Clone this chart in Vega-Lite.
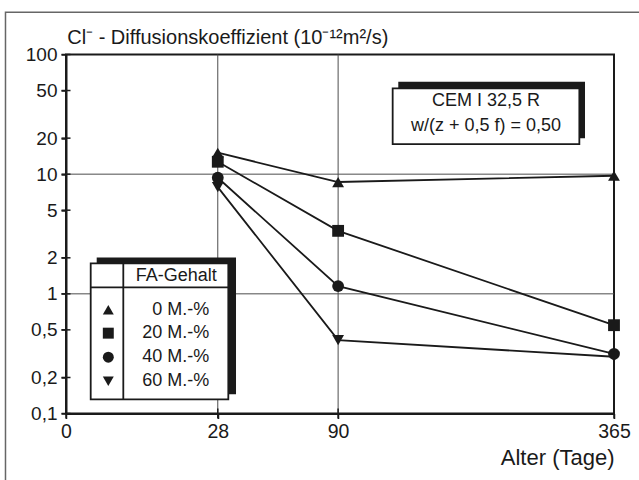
{
  "$schema": "https://vega.github.io/schema/vega-lite/v6.json",
  "width": 548,
  "height": 359,
  "autosize": {"type": "none"},
  "padding": {"left": 66, "top": 54.5, "right": 25, "bottom": 66.5},
  "background": "white",
  "config": {
    "font": "Liberation Sans",
    "view": {"stroke": "#1a1a1a", "strokeWidth": 2}
  },
  "datasets": {
    "series": [
      {"x": 28, "y": 15.1, "FA": "0 M.-%"},
      {"x": 90, "y": 8.6, "FA": "0 M.-%"},
      {"x": 365, "y": 9.7, "FA": "0 M.-%"},
      {"x": 28, "y": 12.7, "FA": "20 M.-%"},
      {"x": 90, "y": 3.36, "FA": "20 M.-%"},
      {"x": 365, "y": 0.547, "FA": "20 M.-%"},
      {"x": 28, "y": 9.33, "FA": "40 M.-%"},
      {"x": 90, "y": 1.16, "FA": "40 M.-%"},
      {"x": 365, "y": 0.315, "FA": "40 M.-%"},
      {"x": 28, "y": 7.8, "FA": "60 M.-%"},
      {"x": 90, "y": 0.41, "FA": "60 M.-%"},
      {"x": 365, "y": 0.298, "FA": "60 M.-%"}
    ],
    "legendSymbols": [
      {"FA": "0 M.-%", "x": 2.175, "y": 0.7378},
      {"FA": "20 M.-%", "x": 2.175, "y": 0.4692},
      {"FA": "40 M.-%", "x": 2.175, "y": 0.2956},
      {"FA": "60 M.-%", "x": 2.175, "y": 0.1863}
    ],
    "legendLabels": [
      {"FA": "0 M.-%", "x": 24.97, "y": 0.7378},
      {"FA": "20 M.-%", "x": 24.97, "y": 0.4692},
      {"FA": "40 M.-%", "x": 24.97, "y": 0.2956},
      {"FA": "60 M.-%", "x": 24.97, "y": 0.1863}
    ]
  },
  "encoding": {
    "x": {
      "field": "x", "type": "quantitative",
      "scale": {"type": "sqrt", "domain": [0, 365], "nice": false, "zero": false},
      "axis": {
        "values": [0, 28, 90, 365],
        "title": "Alter (Tage)",
        "titleFontSize": 22,
        "titleFontWeight": "normal",
        "titleColor": "#1a1a1a",
        "titleAnchor": "end",
        "titleAlign": "right",
        "titlePadding": 6,
        "labelFontSize": 19.5,
        "labelColor": "#1a1a1a",
        "labelPadding": 4,
        "labelFlush": false,
        "labelOverlap": false,
        "tickSize": 5,
        "tickColor": "#1a1a1a",
        "tickWidth": 1.5,
        "domainColor": "#1a1a1a",
        "domainWidth": 2,
        "grid": false
      }
    },
    "y": {
      "field": "y", "type": "quantitative",
      "scale": {"type": "log", "domain": [0.1, 100], "nice": false},
      "axis": {
        "values": [0.1, 0.2, 0.5, 1, 2, 5, 10, 20, 50, 100],
        "labelExpr": "replace(format(datum.value, '~g'), '.', ',')",
        "title": "Cl⁻ - Diffusionskoeffizient (10⁻¹²m²/s)",
        "titleAngle": 0,
        "titleAlign": "left",
        "titleBaseline": "alphabetic",
        "titleX": 0.7,
        "titleY": -11.5,
        "titleFontSize": 20,
        "titleFontWeight": "normal",
        "titleColor": "#1a1a1a",
        "labelFontSize": 19,
        "labelColor": "#1a1a1a",
        "labelPadding": 4,
        "labelFlush": false,
        "labelOverlap": false,
        "tickSize": 5,
        "tickColor": "#1a1a1a",
        "tickWidth": 1.5,
        "domainColor": "#1a1a1a",
        "domainWidth": 2,
        "grid": false
      }
    }
  },
  "layer": [
    {
      "data": {"values": [{"x": -4.45, "x2": 471, "y": 0.0188, "y2": 225.6}]},
      "mark": {"type": "rect", "fillOpacity": 0, "stroke": "#666666", "strokeWidth": 1.5, "clip": false},
      "encoding": {"x2": {"field": "x2"}, "y2": {"field": "y2"}}
    },
    {
      "data": {"values": [{"x": 28, "y": 0.1, "y2": 100}, {"x": 90, "y": 0.1, "y2": 100}]},
      "mark": {"type": "rule", "color": "#4d4d4d", "strokeWidth": 1},
      "encoding": {"y2": {"field": "y2"}}
    },
    {
      "data": {"values": [{"x": 0, "x2": 365, "y": 1}, {"x": 0, "x2": 365, "y": 10}]},
      "mark": {"type": "rule", "color": "#4d4d4d", "strokeWidth": 1},
      "encoding": {"x2": {"field": "x2"}}
    },
    {
      "data": {"values": [{"x": 0, "y": 0.1}, {"x": 28, "y": 0.1}, {"x": 90, "y": 0.1}, {"x": 365, "y": 0.1}]},
      "mark": {"type": "tick", "orient": "vertical", "size": 10, "thickness": 1.5, "color": "#1a1a1a", "opacity": 1},
      "encoding": {}
    },
    {
      "data": {"values": [{"x": 0, "y": 0.1}, {"x": 0, "y": 0.2}, {"x": 0, "y": 0.5}, {"x": 0, "y": 1}, {"x": 0, "y": 2}, {"x": 0, "y": 5}, {"x": 0, "y": 10}, {"x": 0, "y": 20}, {"x": 0, "y": 50}, {"x": 0, "y": 100}]},
      "mark": {"type": "tick", "orient": "horizontal", "size": 9, "thickness": 1.5, "color": "#1a1a1a", "opacity": 1},
      "encoding": {}
    },
    {
      "data": {"name": "series"},
      "mark": {"type": "line", "color": "#1a1a1a", "strokeWidth": 1.8},
      "encoding": {"detail": {"field": "FA"}}
    },
    {
      "data": {"name": "series"},
      "mark": {"type": "point", "filled": true, "opacity": 1, "size": 140, "color": "#1a1a1a"},
      "encoding": {
        "shape": {
          "field": "FA", "type": "nominal",
          "scale": {"domain": ["0 M.-%", "20 M.-%", "40 M.-%", "60 M.-%"], "range": ["triangle-up", "square", "circle", "triangle-down"]},
          "legend": null
        }
      }
    },
    {
      "data": {"values": [{"x": 134.2, "x2": 327.4, "y": 19.92, "y2": 59.23}]},
      "mark": {"type": "rect", "fill": "#1a1a1a"},
      "encoding": {"x2": {"field": "x2"}, "y2": {"field": "y2"}}
    },
    {
      "data": {"values": [{"x": 129.7, "x2": 320.3, "y": 17.85, "y2": 52.17}]},
      "mark": {"type": "rect", "fill": "white", "stroke": "#1a1a1a", "strokeWidth": 1.8},
      "encoding": {"x2": {"field": "x2"}, "y2": {"field": "y2"}}
    },
    {
      "data": {"values": [{"x": 214.4, "y": 41.1, "t": "CEM I 32,5 R"}, {"x": 214.4, "y": 25.4, "t": "w/(z + 0,5 f) = 0,50"}]},
      "mark": {"type": "text", "align": "center", "baseline": "middle", "fontSize": 18, "color": "#1a1a1a"},
      "encoding": {"text": {"field": "t"}}
    },
    {
      "data": {"values": [{"x": 1.146, "x2": 35.13, "y": 0.145, "y2": 2.015}]},
      "mark": {"type": "rect", "fill": "#1a1a1a"},
      "encoding": {"x2": {"field": "x2"}, "y2": {"field": "y2"}}
    },
    {
      "data": {"values": [{"x": 0.7417, "x2": 32.02, "y": 0.131, "y2": 1.796}]},
      "mark": {"type": "rect", "fill": "white", "stroke": "#1a1a1a", "strokeWidth": 1.8},
      "encoding": {"x2": {"field": "x2"}, "y2": {"field": "y2"}}
    },
    {
      "data": {"values": [{"x": 3.991, "x2": 3.991, "y": 0.131, "y2": 1.796}, {"x": 0.7417, "x2": 32.02, "y": 1.131, "y2": 1.131}]},
      "mark": {"type": "rule", "color": "#1a1a1a", "strokeWidth": 1.8},
      "encoding": {"x2": {"field": "x2"}, "y2": {"field": "y2"}}
    },
    {
      "data": {"values": [{"x": 14.79, "y": 1.406, "t": "FA-Gehalt"}]},
      "mark": {"type": "text", "align": "center", "baseline": "middle", "fontSize": 18, "color": "#1a1a1a"},
      "encoding": {"text": {"field": "t"}}
    },
    {
      "data": {"name": "legendSymbols"},
      "mark": {"type": "point", "filled": true, "opacity": 1, "size": 120, "color": "#1a1a1a"},
      "encoding": {"shape": {"field": "FA", "type": "nominal", "legend": null}}
    },
    {
      "data": {"name": "legendLabels"},
      "mark": {"type": "text", "align": "right", "baseline": "middle", "fontSize": 18, "color": "#1a1a1a"},
      "encoding": {"text": {"field": "FA"}}
    }
  ]
}
